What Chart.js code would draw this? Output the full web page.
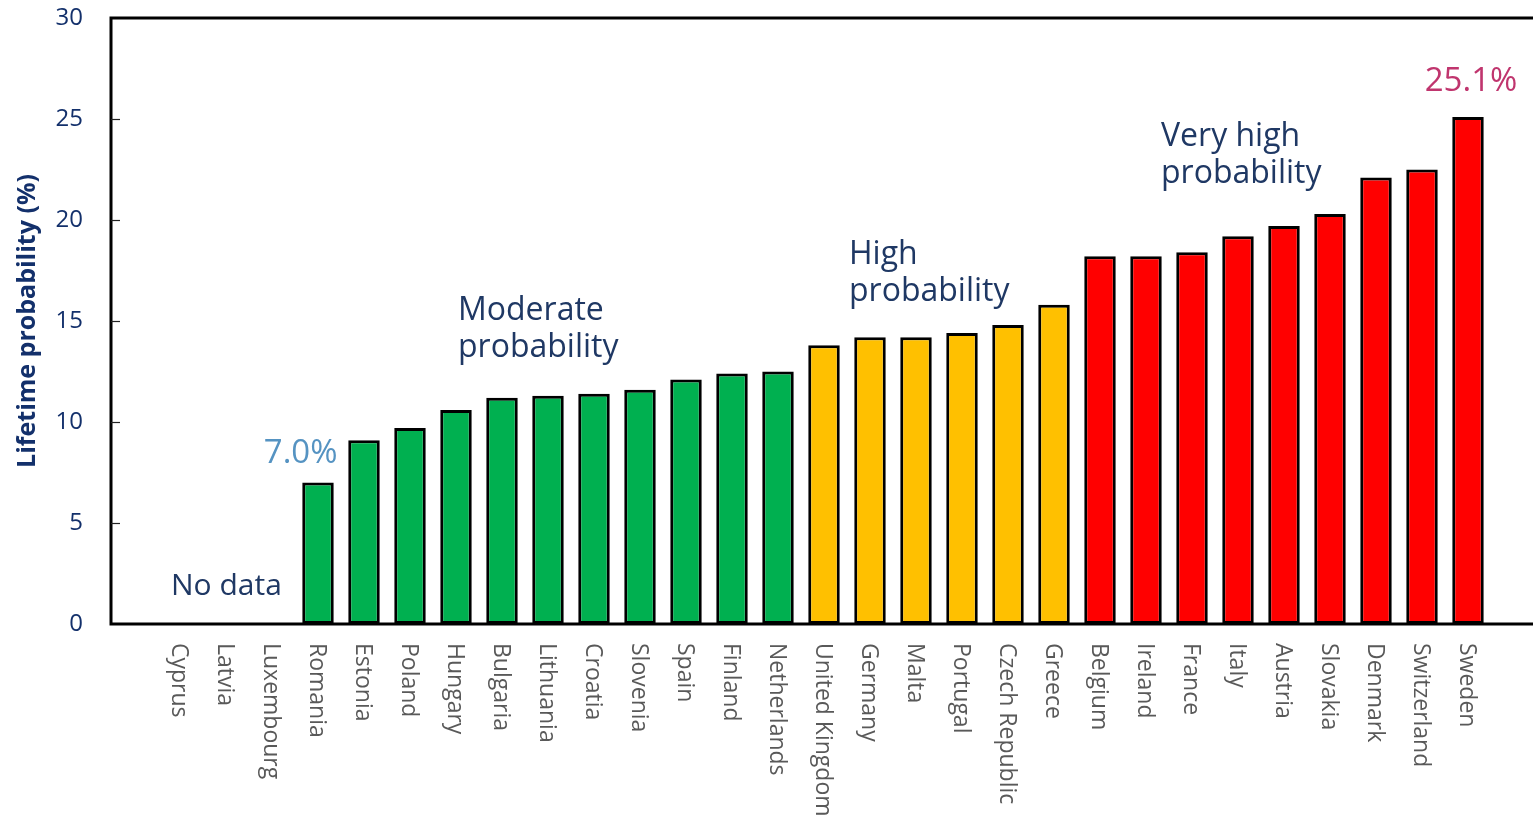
<!DOCTYPE html>
<html>
<head>
<meta charset="utf-8">
<title>Lifetime probability by country</title>
<script src="https://cdn.jsdelivr.net/npm/chart.js@4/dist/chart.umd.min.js"></script>
<style>
  html, body { margin: 0; padding: 0; background: #fff; overflow: hidden; }
  #wrap { width: 1540px; height: 824px; }
</style>
</head>
<body>
<div id="wrap"><canvas id="chart" width="1540" height="824"></canvas></div>
<script>
// countries, sorted by lifetime probability
const countries = [
  "Cyprus", "Latvia", "Luxembourg", "Romania", "Estonia", "Poland", "Hungary",
  "Bulgaria", "Lithuania", "Croatia", "Slovenia", "Spain", "Finland", "Netherlands",
  "United Kingdom", "Germany", "Malta", "Portugal", "Czech Republic", "Greece",
  "Belgium", "Ireland", "France", "Italy", "Austria", "Slovakia", "Denmark",
  "Switzerland", "Sweden"
];
// lifetime probability (%), null = no data
const probability = [
  null, null, null, 7.0, 9.1, 9.7, 10.6,
  11.2, 11.3, 11.4, 11.6, 12.1, 12.4, 12.5,
  13.8, 14.2, 14.2, 14.4, 14.8, 15.8,
  18.2, 18.2, 18.4, 19.2, 19.7, 20.3, 22.1,
  22.5, 25.1
];
// 0 none, 1 moderate, 2 high, 3 very high
const tier = [
  0, 0, 0, 1, 1, 1, 1,
  1, 1, 1, 1, 1, 1, 1,
  2, 2, 2, 2, 2, 2,
  3, 3, 3, 3, 3, 3, 3,
  3, 3
];
const yTicks = [0, 5, 10, 15, 20, 25, 30];

const tierColors = ["#ffffff", "#00b050", "#ffc000", "#ff0000"];
const navy = "#13306b";
const textNavy = "#1f3864";
const font = "'Open Sans', 'DejaVu Sans', sans-serif";

// one empty slot at each end of the axis
const labels = ["", ...countries, ""];
const values = [null, ...probability, null];
const colors = ["#fff", ...tier.map(t => tierColors[t]), "#fff"];

// annotation text: anchored at a category index (into countries) and a y value
const notes = [
  { lines: ["No data"], cat: 0, val: 1.44, dx: -9, align: "left", color: textNavy, size: 30 },
  { lines: ["7.0%"], cat: 3, val: 7.97, dx: 19.5, align: "right", color: "#5593c2", size: 33 },
  { lines: ["Moderate", "probability"], cat: 6, val: 15.05, dx: 2, align: "left", color: textNavy, size: 32 },
  { lines: ["High", "probability"], cat: 14, val: 17.82, dx: 25, align: "left", color: textNavy, size: 32 },
  { lines: ["Very high", "probability"], cat: 21, val: 23.66, dx: 15, align: "left", color: textNavy, size: 32 },
  { lines: ["25.1%"], cat: 28, val: 26.4, dx: 3, align: "center", color: "#c0356e", size: 33 }
];

const decorations = {
  id: "decorations",
  afterDraw(chart) {
    const { ctx, chartArea: a, scales: { x, y } } = chart;
    ctx.save();

    // frame: top, left and bottom lines
    ctx.strokeStyle = "#000";
    ctx.lineWidth = 3;
    ctx.beginPath();
    ctx.moveTo(chart.width, a.top);
    ctx.lineTo(a.left, a.top);
    ctx.lineTo(a.left, a.bottom);
    ctx.lineTo(chart.width, a.bottom);
    ctx.stroke();

    // short inward ticks on the y axis
    ctx.lineWidth = 1.2;
    ctx.strokeStyle = "#222";
    yTicks.slice(1, -1).forEach(v => {
      const py = Math.round(y.getPixelForValue(v)) + 0.5;
      ctx.beginPath();
      ctx.moveTo(a.left, py);
      ctx.lineTo(a.left + 9, py);
      ctx.stroke();
    });

    // country names, reading top to bottom
    ctx.fillStyle = "#595959";
    ctx.font = "23px " + font;
    ctx.textAlign = "left";
    ctx.textBaseline = "middle";
    countries.forEach((name, i) => {
      const px = x.getPixelForValue(i + 1);
      ctx.save();
      ctx.translate(px - 1, a.bottom + 19);
      ctx.rotate(Math.PI / 2);
      ctx.fillText(name, 0, 0);
      ctx.restore();
    });

    // annotations
    ctx.textBaseline = "alphabetic";
    notes.forEach(n => {
      ctx.font = n.size + "px " + font;
      ctx.fillStyle = n.color;
      ctx.textAlign = n.align;
      const px = x.getPixelForValue(n.cat + 1) + n.dx;
      const py = y.getPixelForValue(n.val);
      n.lines.forEach((line, k) => ctx.fillText(line, px, py + k * 37));
    });

    ctx.restore();
  }
};

new Chart(document.getElementById("chart"), {
  type: "bar",
  data: {
    labels: labels,
    datasets: [{
      data: values,
      backgroundColor: colors,
      borderColor: "#000",
      borderWidth: 3,
      borderSkipped: false,
      barPercentage: 0.685,
      categoryPercentage: 1
    }]
  },
  options: {
    responsive: false,
    animation: false,
    layout: { padding: { top: 18, right: 3, left: 0, bottom: 0 } },
    plugins: {
      legend: { display: false },
      tooltip: { enabled: false }
    },
    scales: {
      x: {
        grid: { display: false },
        border: { display: false },
        ticks: { display: false },
        afterFit(scale) { scale.height = 200; }
      },
      y: {
        min: 0,
        max: 30,
        grid: { display: false },
        border: { display: false },
        afterBuildTicks(scale) { scale.ticks = yTicks.map(v => ({ value: v })); },
        afterFit(scale) {
          scale.width = 111;
          scale.paddingTop = 0;
          scale.paddingBottom = 0;
        },
        ticks: {
          color: navy,
          padding: 20,
          font: { family: font, size: 24 }
        },
        title: {
          display: true,
          text: "Lifetime probability (%)",
          color: navy,
          padding: { top: 13, bottom: 0 },
          font: { family: font, size: 25, weight: "bold" }
        }
      }
    }
  },
  plugins: [decorations]
});
</script>
</body>
</html>
